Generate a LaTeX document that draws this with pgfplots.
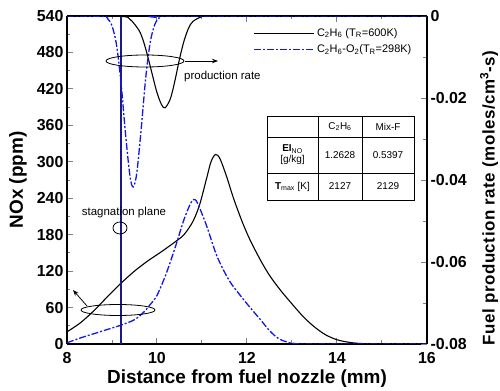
\documentclass[border=0pt]{standalone}
\usepackage{pgfplots}
\pgfplotsset{compat=1.18}
\usepackage{fontspec}
\setmainfont{Liberation Sans}
\usetikzlibrary{arrows.meta}
\definecolor{curveblue}{RGB}{20,20,240}
\definecolor{stagnavy}{RGB}{25,25,140}
\begin{document}
\begin{tikzpicture}
\path[use as bounding box] (-67bp,-47bp) rectangle (433bp,344bp);
\begin{axis}[
  at={(0,0)}, anchor=south west,
  width=360bp, height=328bp, scale only axis,
  xmin=8, xmax=16, ymin=0, ymax=540,
  xtick={8,10,12,14,16}, minor x tick num=1,
  ytick={0,60,...,540}, minor y tick num=1,
  tick align=inside,
  axis y line*=left,
  axis line style={line width=1.1pt},
  major tick style={line width=1pt},
  minor tick style={line width=1pt},
  major tick length=6bp, minor tick length=3.5bp,
  tick label style={font=\fontsize{16}{16}\selectfont\bfseries},
  xticklabel style={yshift=-5bp},
  /pgf/number format/assume math mode=true,
  xlabel={Distance from fuel nozzle (mm)},
  ylabel={NOx (ppm)},
  label style={font=\fontsize{19}{19}\selectfont\bfseries},
  xlabel style={at={(axis description cs:0.5,-0.107)}, anchor=center},
  ylabel style={at={(axis description cs:-0.136,0.5)}, anchor=center},
  legend style={at={(0.51,0.975)}, anchor=north west, draw=none, fill=none,
    font=\fontsize{11}{13}\selectfont, row sep=3bp},
  legend cell align=left,
  legend image code/.code={\draw[#1] (0bp,0bp) -- (60bp,0bp);},
]
\addplot[black, line width=1.1pt, smooth] coordinates {
(8.0,20) (8.3,35) (8.6,55) (8.9,78) (9.2,100) (9.5,120) (9.8,137) (10.1,152)
(10.4,168) (10.6,180) (10.8,202) (10.95,230) (11.1,272) (11.2,300) (11.3,312)
(11.4,305) (11.55,275) (11.7,240) (11.9,200) (12.07,171) (12.3,138) (12.5,113)
(12.75,88) (13.0,66) (13.25,45) (13.5,28) (13.75,15) (14.0,7) (14.25,3) (14.5,1) (15,0) (16,0)};
\addlegendentry{C\textsubscript{2}H\textsubscript{6} (T\textsubscript{R}=600K)}
\addplot[curveblue, line width=1.3pt, smooth, dash pattern=on 7pt off 2pt on 2pt off 2pt] coordinates {
(8.0,2) (8.3,10) (8.6,17) (8.9,24) (9.2,31) (9.5,40) (9.7,52) (9.85,65) (10.0,80)
(10.2,115) (10.4,158) (10.6,205) (10.75,232) (10.82,238) (10.9,232) (11.1,195)
(11.33,145) (11.6,105) (11.85,80) (12.07,60) (12.3,40) (12.5,22) (12.7,9) (12.9,3) (13.1,0.5) (13.5,0) (16,0)};
\addlegendentry{C\textsubscript{2}H\textsubscript{6}-O\textsubscript{2}(T\textsubscript{R}=298K)}
\addplot[stagnavy, line width=1.3pt, forget plot] coordinates {(9.2,0) (9.2,540)};
\end{axis}
\begin{axis}[
  at={(0,0)}, anchor=south west,
  width=360bp, height=328bp, scale only axis,
  xmin=8, xmax=16, ymin=-0.08, ymax=0,
  axis x line=none,
  axis y line*=right,
  scaled y ticks=false,
  ytick={-0.08,-0.06,-0.04,-0.02,0},
  yticklabels={-0.08,-0.06,-0.04,-0.02,0},
  minor y tick num=1,
  tick align=inside,
  axis line style={line width=1.1pt},
  major tick style={line width=1pt},
  minor tick style={line width=1pt},
  major tick length=6bp, minor tick length=3.5bp,
  tick label style={font=\fontsize{16}{16}\selectfont\bfseries},
]
\addplot[black, line width=1.1pt, smooth] coordinates {
(8,0) (9.2,-0.0001) (9.4,-0.0008) (9.6,-0.0035) (9.7,-0.0062) (9.8,-0.0101)
(9.9,-0.0145) (10.0,-0.0187) (10.1,-0.0216) (10.18,-0.0224) (10.3,-0.0201)
(10.4,-0.0157) (10.5,-0.0105) (10.6,-0.0061) (10.7,-0.0030) (10.8,-0.0013)
(11.0,-0.00015) (11.2,0) (16,0)};
\addplot[curveblue, line width=1.3pt, smooth, dash pattern=on 7pt off 2pt on 2pt off 2pt] coordinates {
(8,0) (8.8,-0.0001) (8.9,-0.0006) (9.0,-0.0024) (9.1,-0.0070) (9.2,-0.0162)
(9.3,-0.0287) (9.4,-0.0391) (9.47,-0.0417) (9.55,-0.0384) (9.65,-0.0274)
(9.75,-0.0150) (9.85,-0.0064) (9.95,-0.0021) (10.05,-0.0005) (10.2,0) (16,0)};
\end{axis}
% annotations
\draw[line width=0.8pt] (78bp,283bp) ellipse [x radius=39bp, y radius=6bp];
\draw[line width=0.8pt, -{Stealth[length=6bp]}] (118bp,283bp) -- (151bp,283bp);
\node[anchor=west, font=\fontsize{11.5}{12}\selectfont, inner sep=0pt] at (117bp,267bp) {production rate};
\node[font=\fontsize{11.5}{12}\selectfont, inner sep=0pt] at (57bp,131bp) {stagnation plane};
\draw[line width=0.8pt] (53bp,116bp) ellipse [x radius=7bp, y radius=6bp];
\draw[line width=0.8pt] (51bp,34bp) ellipse [x radius=37bp, y radius=5.5bp];
\draw[line width=0.8pt, -{Stealth[length=6bp]}] (20bp,38bp) -- (6bp,54bp);
% table
\begin{scope}[line width=0.8pt, font=\fontsize{10}{11}\selectfont]
\draw (200bp,144bp) rectangle (347bp,228bp);
\draw (251bp,144bp) -- (251bp,228bp);
\draw (295bp,144bp) -- (295bp,228bp);
\draw (200bp,207bp) -- (347bp,207bp);
\draw (200bp,171bp) -- (347bp,171bp);
\node at (273bp,217.5bp) {C\textsubscript{2}H\textsubscript{6}};
\node at (321bp,217.5bp) {Mix-F};
\node[align=center] at (225.5bp,189bp) {\textbf{EI}\textsubscript{NO}\\{[g/kg]}};
\node at (273bp,189bp) {1.2628};
\node at (321bp,189bp) {0.5397};
\node at (225.5bp,157.5bp) {\textbf{T}\textsubscript{max} [K]};
\node at (273bp,157.5bp) {2127};
\node at (321bp,157.5bp) {2129};
\end{scope}
\node[rotate=90, font=\fontsize{17}{17}\selectfont\bfseries\addfontfeature{LetterSpace=3}] at (422bp,146bp) {Fuel production rate (moles/cm\textsuperscript{3}-s)};
\end{tikzpicture}
\end{document}
